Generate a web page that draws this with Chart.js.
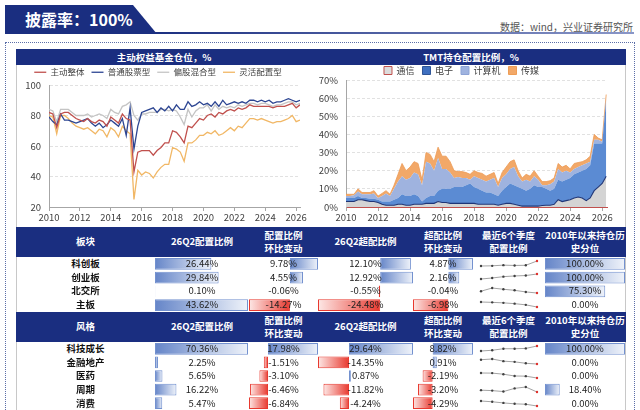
<!DOCTYPE html>
<html>
<head>
<meta charset="utf-8">
<script src="https://cdn.jsdelivr.net/npm/chart.js@4.4.1/dist/chart.umd.min.js"></script>
<style>
  body { margin: 0; width: 640px; height: 410px; overflow: hidden; background: #fff; position: relative;
         font-family: "Noto Sans CJK SC", "Noto Sans", sans-serif; }
  .abs { position: absolute; }
  #banner { left: 5px; top: 5px; width: 152px; height: 29px; background: #1a2e80; color: #fff;
            clip-path: polygon(0 0, 128px 0, 152px 100%, 0 100%); font-size: 16px; font-weight: bold;
            line-height: 29px; padding-left: 20px; box-sizing: border-box; }
  #rule { left: 150px; top: 32px; width: 484px; height: 2px; background: linear-gradient(to right, #1a2e80, #8a97c8); }
  #source { right: 7px; top: 19px; font-size: 10px; color: #555; }
  #frame { left: 5px; top: 42px; width: 630px; height: 400px; border: 1.5px dotted #5b6ea8; box-sizing: border-box; }
  #panel { left: 16px; top: 49px; width: 610px; height: 380px; border: 1px solid #c8c8c8; box-sizing: border-box; }
  #chartHead { left: 16px; top: 49px; width: 610px; height: 16px; background: #1a2e80; }
  .title { top: 49px; height: 16px; line-height: 16px; color: #fff; font-size: 9.5px; font-weight: bold; text-align: center; }
  .cell { position: absolute; display: flex; align-items: center; justify-content: center; text-align: center;
          font-size: 9.5px; line-height: 13px; white-space: nowrap; color: #222; }
  .head { background: #1a2e80; color: #fff; font-weight: bold; }
  .name { font-weight: bold; color: #111; }
  canvas { position: absolute; }
</style>
</head>
<body>
<div class="abs" id="frame"></div>
<div class="abs" id="panel"></div>
<div class="abs" id="banner">披露率：100%</div>
<div class="abs" id="rule"></div>
<div class="abs" id="source">数据：wind，兴业证券研究所</div>
<div class="abs" id="chartHead"></div>
<div class="abs title" style="left:16px;width:296px">主动权益基金仓位，%</div>
<div class="abs title" style="left:316px;width:310px">TMT持仓配置比例，%</div>
<canvas id="left-chart" width="296" height="165" style="left:16px;top:61px"></canvas>
<canvas id="right-chart" width="310" height="168" style="left:316px;top:58px"></canvas>
<script>
// 2010Q1 .. 2026Q2, quarterly
var yearTicks = [2010, 2012, 2014, 2016, 2018, 2020, 2022, 2024, 2026];

var activeAll = [82, 81, 72, 81, 82, 82, 80, 78, 77, 76, 78, 76, 75, 77, 76, 73,
  79, 77, 75, 81, 78, 77, 43, 56, 57, 57, 57, 54, 57, 59, 62, 62,
  70, 69, 66, 62, 73, 72, 75, 78, 77, 80, 81, 79, 82, 81, 83, 84,
  83, 85, 84, 85, 87, 86, 86, 86, 86, 86, 85, 86, 86, 86, 87, 88, 85, 87];
var stockFund = [79, 76, 74, 81, 77, 77, 76, 75, 76, 77, 78, 75, 73, 75, 72, 74,
  77, 75, 73, 78, 67, 85, 58, 73, 82, 83, 84, 85, 82, 85, 83, 86,
  83, 87, 84, 84, 89, 86, 87, 89, 87, 88, 86, 89, 86, 90, 87, 88,
  89, 88, 89, 88, 90, 90, 89, 90, 89, 90, 88, 89, 89, 90, 91, 90, 89, 90];
var mixedFund = [84, 83, 76, 84, 84, 84, 82, 80, 80, 80, 81, 79, 80, 81, 80, 78,
  84, 82, 81, 86, 87, 89, 80, 77, 81, 81, 82, 82, 82, 84, 84, 83,
  84, 83, 79, 74, 84, 79, 83, 85, 85, 87, 83, 87, 84, 86, 85, 86,
  85, 87, 86, 87, 88, 88, 87, 88, 88, 87, 86, 87, 87, 88, 89, 89, 87, 88];
var flexFund = [80, 79, 68, 80, 80, 78, 75, 73, 72, 71, 72, 70, 68, 71, 70, 66,
  72, 70, 66, 73, 70, 68, 25, 44, 41, 43, 42, 39, 43, 46, 48, 48,
  59, 58, 56, 50, 62, 62, 64, 67, 67, 69, 68, 70, 67, 68, 70, 72,
  70, 73, 72, 75, 78, 78, 77, 78, 77, 76, 75, 76, 76, 77, 78, 80, 76, 77];

// TMT stacked shares, %
var telecom = [3, 3, 3, 4, 4, 3.5, 3, 3, 2.5, 1.5, 1, 1, 1, 1.5, 1.5, 1,
  1, 1.5, 1.5, 1.5, 2, 2, 2, 3, 2.5, 2.5, 2, 2, 2, 2, 2, 2,
  2, 1.5, 1.5, 1.5, 1.5, 1.5, 1, 1.5, 2, 2, 1.5, 1, 0.5, 0.5, 0.5, 0.5,
  0.5, 0.8, 1, 1, 1.5, 4, 3, 3.5, 4, 5, 5.5, 5, 3.5, 5, 9, 11, 13, 17];
var electronics = [2, 2, 2, 2, 1, 1.5, 1.5, 1.5, 1.5, 1.5, 2, 2, 3, 3.5, 5.5, 5,
  5, 5.5, 4.5, 1.5, 3, 4, 4, 6, 7.5, 7.5, 8, 9, 9, 9, 10, 11,
  9, 8.5, 7.5, 6.5, 6.5, 5.5, 5, 7.5, 9, 11, 10.5, 10, 9.5, 8.5, 9.5, 11.5,
  10.5, 10.2, 9, 8, 8.5, 11, 11, 11.5, 12, 13, 13.5, 15, 17.5, 18, 26, 24, 22, 42];
var computer = [1, 1, 1.5, 2.5, 2, 2, 2.5, 3, 1, 3, 4.5, 3, 6, 9, 10, 9,
  10, 12, 12, 9, 20, 18, 14, 18, 11, 11, 9, 5, 5.5, 5, 4, 2,
  6, 6, 6, 6, 7, 9, 5, 7, 7, 8, 10, 6, 4, 6, 4, 5,
  4, 1, 2, 3.5, 4, 6, 5, 5, 3, 3, 3, 3, 3, 2, 2, 2, 1, 1.5];
var media = [1, 1, 0.5, 1.5, 1, 1, 1, 1.5, 1, 1.5, 1.5, 1, 2, 4, 7, 5,
  6, 6, 6, 3, 5, 5, 5, 6, 7, 7, 6, 4, 3, 3.5, 3, 3,
  3, 3, 3.5, 3, 3, 3, 2, 3, 4, 4, 4, 3, 2, 3, 3, 3,
  2, 2, 2, 2, 2, 3, 3, 3, 2, 3, 2.5, 2, 2, 3, 3, 1, 1, 1.5];

var boardNames = ['科创板', '创业板', '北交所', '主板'];
var boardShare = [26.44, 29.84, 0.10, 43.62];
var boardShareChg = [9.78, 4.55, -0.06, -14.27];
var boardOver = [12.10, 12.92, -0.55, -24.48];
var boardOverChg = [4.87, 2.16, -0.04, -6.98];
var boardPct = [100.00, 100.00, 75.30, 0.00];
var boardRecent = [[15.0, 15.4, 17.0, 16.2, 16.66, 26.44], [15.0, 18.0, 22.0, 24.0, 25.29, 29.84],
  [0.20, 0.38, 0.31, 0.25, 0.16, 0.10], [76.8, 74.5, 71.2, 65.9, 57.89, 43.62]];

var styleNames = ['科技成长', '金融地产', '医药', '周期', '消费'];
var styleShare = [70.36, 2.25, 5.65, 16.22, 5.47];
var styleShareChg = [17.98, -1.51, -3.10, -6.46, -6.84];
var styleOver = [29.64, -14.35, 0.87, -11.82, -4.24];
var styleOverChg = [8.82, 0.91, -2.19, -3.20, -4.29];
var stylePct = [100.00, 0.00, 0.00, 18.40, 0.00];
var styleRecent = [[33.0, 38.5, 50.0, 50.0, 52.38, 70.36], [11.5, 13.05, 8.4, 6.9, 3.76, 2.25],
  [14.0, 13.8, 12.0, 9.0, 8.75, 5.65], [18.6, 18.0, 16.8, 20.9, 22.68, 16.22],
  [25.0, 22.0, 17.5, 14.0, 12.31, 5.47]];

Chart.defaults.font.family = '"Noto Sans CJK SC", "Noto Sans", sans-serif';
Chart.defaults.font.size = 9.5;
Chart.defaults.color = '#404040';

function toXY(values) {
  return values.map(function (v, i) { return {x: 2010 + i / 4, y: v}; });
}

function legendHeight(h) {
  return {
    id: 'legendHeight',
    beforeInit: function (chart) {
      var fit = chart.legend.fit;
      chart.legend.fit = function () { fit.call(this); this.height = h; };
    }
  };
}

function xAxis(max) {
  return {
    type: 'linear', min: 2010, max: max,
    afterBuildTicks: function (s) { s.ticks = yearTicks.map(function (v) { return {value: v}; }); },
    afterFit: function (s) { s.height = 19; },
    ticks: {autoSkip: false, maxRotation: 0, padding: 1, callback: function (v) { return String(v); }},
    grid: {drawOnChartArea: false, tickLength: 4, color: '#a6a6a6'},
    border: {color: '#a6a6a6'}
  };
}

function lineSet(label, values, color) {
  return {label: label, data: toXY(values), borderColor: color, backgroundColor: color,
    borderWidth: 1.3, pointRadius: 0, tension: 0};
}

new Chart(document.getElementById('left-chart'), {
  type: 'line',
  data: {datasets: [
    lineSet('主动整体', activeAll, '#c0504d'),
    lineSet('普通股票型', stockFund, '#2c4592'),
    lineSet('偏股混合型', mixedFund, '#c4c4c4'),
    lineSet('灵活配置型', flexFund, '#f1b765')
  ]},
  options: {
    responsive: false, animation: false, events: [],
    layout: {padding: {left: 0, right: 12, top: 0, bottom: 0}},
    plugins: {
      legend: {labels: {usePointStyle: true, pointStyle: 'line', pointStyleWidth: 12, boxHeight: 9,
        font: {size: 8.5}, padding: 7}},
      tooltip: {enabled: false}
    },
    scales: {
      x: xAxis(2026.25),
      y: {min: 20, max: 100, afterFit: function (s) { s.width = 33; },
        ticks: {stepSize: 20, padding: 8},
        grid: {drawTicks: false, color: '#d9d9d9', lineWidth: 0.8},
        border: {color: '#a6a6a6', dash: [3, 2]}}
    }
  },
  plugins: [legendHeight(24)]
});

var tmtFill = ['#dcdcdc', '#3f70c0', '#9fb3df', '#f2a868'];
var tmtStroke = ['#c0504d', '#2f5597', '#8da3d6', '#ee9d55'];

function areaSet(label, values, fill, border, width, target) {
  return {label: label, data: toXY(values), backgroundColor: fill, borderColor: border,
    borderWidth: width, pointRadius: 0, tension: 0, fill: target};
}

new Chart(document.getElementById('right-chart'), {
  type: 'line',
  data: {datasets: [
    areaSet('通信', telecom, '#d4d4d4', '#1f3576', 1.1, 'origin'),
    areaSet('电子', electronics, '#5b8bd3', 'rgba(91,139,211,0)', 0, '-1'),
    areaSet('计算机', computer, '#9fb3df', 'rgba(159,179,223,0)', 0, '-1'),
    areaSet('传媒', media, '#f2a868', '#ec9b55', 0.8, '-1')
  ]},
  options: {
    responsive: false, animation: false, events: [],
    layout: {padding: {left: 0, right: 19, top: 0, bottom: 0}},
    plugins: {
      legend: {labels: {boxWidth: 8, boxHeight: 8, font: {size: 9}, padding: 8,
        generateLabels: function (chart) {
          var items = Chart.defaults.plugins.legend.labels.generateLabels(chart);
          items.forEach(function (it, i) { it.fillStyle = tmtFill[i]; it.strokeStyle = tmtStroke[i]; it.lineWidth = 1; });
          return items;
        }}},
      tooltip: {enabled: false}
    },
    scales: {
      x: Object.assign(xAxis(2026.3), {border: {color: '#c0504d'}}),
      y: {stacked: true, min: 0, max: 70, afterFit: function (s) { s.width = 30; },
        ticks: {stepSize: 10, padding: 8, callback: function (v) { return v + '%'; }},
        grid: {drawTicks: false, color: '#d9d9d9', lineWidth: 0.8},
        border: {color: '#a6a6a6', dash: [3, 2]}}
    }
  },
  plugins: [legendHeight(22)]
});

// table
var cols = [{x: 16, w: 139}, {x: 155, w: 94}, {x: 249, w: 69}, {x: 318, w: 95},
  {x: 413, w: 60}, {x: 473, w: 71}, {x: 544, w: 82}];

function cell(x, y, w, h, html, cls) {
  var d = document.createElement('div');
  d.className = 'cell ' + (cls || '');
  d.style.left = x + 'px';
  d.style.top = y + 'px';
  d.style.width = w + 'px';
  d.style.height = h + 'px';
  d.innerHTML = html;
  document.body.appendChild(d);
  return d;
}

function canvasAt(x, y, w, h) {
  var cv = document.createElement('canvas');
  cv.width = w;
  cv.height = h;
  cv.style.left = x + 'px';
  cv.style.top = y + 'px';
  document.body.appendChild(cv);
  return cv;
}

function barFill(c) {
  var chart = c.chart;
  if (!chart.chartArea || c.raw === undefined) return '#7391cf';
  var xs = chart.scales.x;
  var x0 = xs.getPixelForValue(0), x1 = xs.getPixelForValue(c.raw);
  if (Math.abs(x1 - x0) < 1) return c.raw < 0 ? '#e8392f' : '#7391cf';
  var g = chart.ctx.createLinearGradient(x0, 0, x1, 0);
  if (c.raw < 0) {
    g.addColorStop(0, '#e8392f');
    g.addColorStop(1, '#fde8e6');
  } else {
    g.addColorStop(0, '#6585c8');
    g.addColorStop(1, '#eff3fa');
  }
  return g;
}

function dataBars(x, y, w, h, values) {
  var lo = Math.min(0, Math.min.apply(null, values));
  var hi = Math.max(0, Math.max.apply(null, values));
  new Chart(canvasAt(x, y, w, h), {
    type: 'bar',
    data: {labels: values.map(function (v, i) { return i; }),
      datasets: [{data: values, backgroundColor: barFill,
        borderColor: function (c) { return c.raw < 0 ? '#e8392f' : '#7391cf'; },
        borderWidth: function (c) { return c.raw === 0 ? 0 : 1; },
        borderSkipped: false, barPercentage: 0.86, categoryPercentage: 1}]},
    options: {indexAxis: 'y', responsive: false, animation: false, events: [],
      layout: {padding: 0},
      plugins: {legend: {display: false}, tooltip: {enabled: false}},
      scales: {x: {display: false, min: lo, max: hi}, y: {display: false}}}
  });
}

function sparkline(x, y, w, h, values) {
  new Chart(canvasAt(x, y, w, h), {
    type: 'line',
    data: {labels: values.map(function (v, i) { return i; }),
      datasets: [{data: values, borderColor: '#8c8c8c', borderWidth: 0.8, tension: 0, clip: false,
        pointRadius: 1.2, pointBorderWidth: 0,
        pointBackgroundColor: values.map(function (v, i) { return i === values.length - 1 ? '#e0302a' : '#404040'; })}]},
    options: {responsive: false, animation: false, events: [],
      layout: {padding: {left: 3, right: 3, top: 2, bottom: 2}},
      plugins: {legend: {display: false}, tooltip: {enabled: false}},
      scales: {x: {display: false},
        y: {display: false, min: Math.min.apply(null, values), max: Math.max.apply(null, values)}}}
  });
}

function pct(v) { return v.toFixed(2) + '%'; }

function block(top, rowH, title, names, share, shareChg, over, overChg, recent, hist) {
  var heads = [title, '26Q2配置比例', '配置比例<br>环比变动', '26Q2超配比例', '超配比例<br>环比变动',
    '最近6个季度<br>配置比例', '2010年以来持仓历<br>史分位'];
  heads.forEach(function (t, i) { cell(cols[i].x, top, cols[i].w, 30, t, 'head'); });
  var rowsTop = top + 30, h = rowH * names.length;
  dataBars(cols[1].x, rowsTop, cols[1].w - 1, h, share);
  dataBars(cols[2].x, rowsTop, cols[2].w, h, shareChg);
  dataBars(cols[3].x, rowsTop, cols[3].w, h, over);
  dataBars(cols[4].x, rowsTop, cols[4].w, h, overChg);
  dataBars(cols[6].x + 1, rowsTop, cols[6].w - 2, h, hist);
  var columns = [share, shareChg, over, overChg];
  names.forEach(function (n, r) {
    var y = rowsTop + r * rowH;
    cell(cols[0].x, y, cols[0].w, rowH, n, 'name');
    columns.forEach(function (vals, c) { cell(cols[c + 1].x, y, cols[c + 1].w, rowH, pct(vals[r])); });
    sparkline(cols[5].x + 4, y, 64, rowH, recent[r]);
    cell(cols[6].x, y, cols[6].w, rowH, pct(hist[r]));
  });
}

block(226.5, 13.8, '板块', boardNames, boardShare, boardShareChg, boardOver, boardOverChg, boardRecent, boardPct);
block(311.5, 13.75, '风格', styleNames, styleShare, styleShareChg, styleOver, styleOverChg, styleRecent, stylePct);
</script>
</body>
</html>
